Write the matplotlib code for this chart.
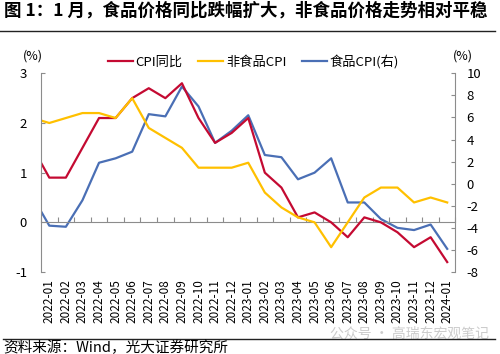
import numpy as np
import matplotlib
matplotlib.use("Agg")
import matplotlib.pyplot as plt
from matplotlib.lines import Line2D

plt.rcParams['font.family'] = ['Noto Sans CJK SC', 'DejaVu Sans']
plt.rcParams['axes.unicode_minus'] = False

# monthly data, 2021-12 only used so the lines run to the left edge
months = ['2021-12',
          '2022-01', '2022-02', '2022-03', '2022-04', '2022-05', '2022-06',
          '2022-07', '2022-08', '2022-09', '2022-10', '2022-11', '2022-12',
          '2023-01', '2023-02', '2023-03', '2023-04', '2023-05', '2023-06',
          '2023-07', '2023-08', '2023-09', '2023-10', '2023-11', '2023-12',
          '2024-01']
cpi = [1.5,
       0.9, 0.9, 1.5, 2.1, 2.1, 2.5, 2.7, 2.5, 2.8, 2.1, 1.6, 1.8,
       2.1, 1.0, 0.7, 0.1, 0.2, 0.0, -0.3, 0.1, 0.0, -0.2, -0.5, -0.3,
       -0.8]
nonfood = [2.1,
           2.0, 2.1, 2.2, 2.2, 2.1, 2.5, 1.9, 1.7, 1.5, 1.1, 1.1, 1.1,
           1.2, 0.6, 0.3, 0.1, 0.0, -0.5, 0.0, 0.5, 0.7, 0.7, 0.4, 0.5,
           0.4]
food = [-1.2,
        -3.8, -3.9, -1.5, 1.9, 2.3, 2.9, 6.3, 6.1, 8.8, 7.0, 3.7, 4.8,
        6.2, 2.6, 2.4, 0.4, 1.0, 2.3, -1.7, -1.7, -3.2, -4.0, -4.2, -3.7,
        -5.9]

red = '#C40A32'
yellow = '#FFC000'
blue = '#4A6FB5'
gray = '#8C8C8C'

x = np.arange(len(months)) - 1

fig = plt.figure(figsize=(5, 3.54), dpi=100)
ax = fig.add_axes([0.082, 0.2316, 0.829, 0.5613])
ax2 = ax.twinx()
ax.set_zorder(ax2.get_zorder() + 1)
ax.patch.set_visible(False)

l1, = ax.plot(x, cpi, color=red, lw=1.6, label='CPI同比', solid_joinstyle='round')
l2, = ax.plot(x, nonfood, color=yellow, lw=1.6, label='非食品CPI', solid_joinstyle='round')
l3, = ax2.plot(x, food, color=blue, lw=1.6, label='食品CPI(右)', solid_joinstyle='round')

ax.set_xlim(-0.5, 24.5)
ax.set_ylim(-1, 3)
ax2.set_ylim(-8, 10)
ax.set_yticks([-1, 0, 1, 2, 3])
ax2.set_yticks(range(-8, 11, 2))

ax.set_xticks(x[1:], months[1:], rotation=90, fontsize=8.5)
ax.tick_params(axis='x', length=0, pad=5)
ax.tick_params(axis='y', direction='in', length=3, color=gray, pad=10, labelsize=9.5)
ax2.tick_params(axis='y', direction='in', length=3, color=gray, pad=8, labelsize=9.5)

for a in (ax, ax2):
    for s in a.spines.values():
        s.set_visible(False)
ax.spines['left'].set_visible(True)
ax.spines['left'].set_color(gray)
ax2.spines['right'].set_visible(True)
ax2.spines['right'].set_color(gray)

# zero line with category ticks
sec = ax.secondary_xaxis(0.25)
sec.set_xticks(np.arange(-0.5, 24.6, 1))
sec.tick_params(direction='in', length=3.5, color=gray, labelbottom=False, labeltop=False)
for s in sec.spines.values():
    s.set_color(gray)

fig.text(0.066, 1 - 56 / 354, '(%)', fontsize=9, ha='center', va='center')
fig.text(0.926, 1 - 56 / 354, '(%)', fontsize=9, ha='center', va='center')

fig.legend(handles=[l1, l2, l3], loc='center', bbox_to_anchor=(0.507, 1 - 62 / 354),
           ncol=3, frameon=False, fontsize=9.5, handlelength=1.9,
           handletextpad=0.2, columnspacing=1.2)

fig.text(0.008, 1 - 11 / 354, '图 1：1 月，食品价格同比跌幅扩大，非食品价格走势相对平稳',
         fontsize=12.6, fontweight='bold', va='center', ha='left')
fig.add_artist(Line2D([0.0, 0.99], [1 - 31 / 354] * 2, color='#222222', lw=1))
fig.add_artist(Line2D([0.006, 0.99], [1 - 339 / 354] * 2, color='#222222', lw=1))
fig.text(0.006, 1 - 347.5 / 354, '资料来源：Wind，光大证券研究所', fontsize=10.5,
         va='center', ha='left')
fig.text(0.66, 1 - 334 / 354, '公众号 · 高瑞东宏观笔记', fontsize=10,
         color='#cccccc', va='center', ha='left', zorder=0)

fig.savefig('out.png', dpi=100)
